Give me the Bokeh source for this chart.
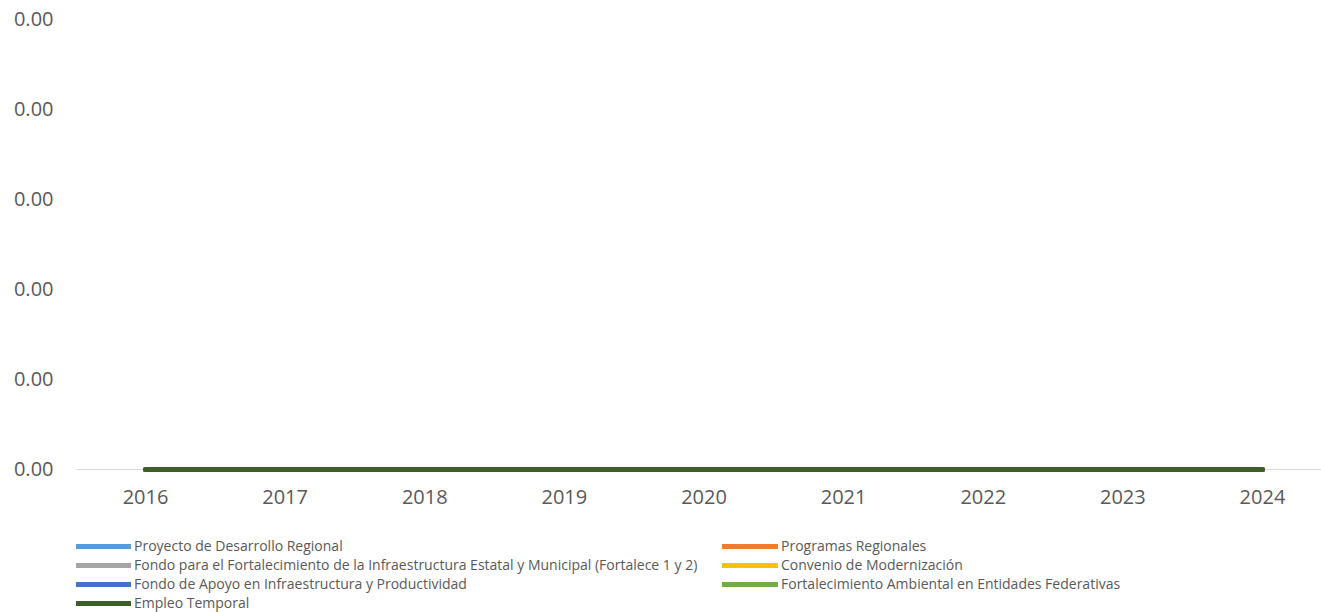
from bokeh.plotting import figure
from bokeh.layouts import column
from bokeh.models import Legend, LegendItem, FixedTicker, NumeralTickFormatter, Range1d, Span
from bokeh.embed import file_html
from bokeh.resources import INLINE

years = ["2016", "2017", "2018", "2019", "2020", "2021", "2022", "2023", "2024"]

series_names = [
    "Proyecto de Desarrollo Regional",
    "Programas Regionales",
    "Fondo para el Fortalecimiento de la Infraestructura Estatal y Municipal (Fortalece 1 y 2)",
    "Convenio de Modernización",
    "Fondo de Apoyo en Infraestructura y Productividad",
    "Fortalecimiento Ambiental en Entidades Federativas",
    "Empleo Temporal",
]

series_colors = ["#5B9BD5", "#ED7D31", "#A5A5A5", "#FFC000", "#4472C4", "#70AD47", "#3C5E27"]

proyecto_desarrollo_regional = [0.0, 0.0, 0.0, 0.0, 0.0, 0.0, 0.0, 0.0, 0.0]
programas_regionales = [0.0, 0.0, 0.0, 0.0, 0.0, 0.0, 0.0, 0.0, 0.0]
fortalece = [0.0, 0.0, 0.0, 0.0, 0.0, 0.0, 0.0, 0.0, 0.0]
convenio_modernizacion = [0.0, 0.0, 0.0, 0.0, 0.0, 0.0, 0.0, 0.0, 0.0]
fondo_apoyo = [0.0, 0.0, 0.0, 0.0, 0.0, 0.0, 0.0, 0.0, 0.0]
fortalecimiento_ambiental = [0.0, 0.0, 0.0, 0.0, 0.0, 0.0, 0.0, 0.0, 0.0]
empleo_temporal = [0.0, 0.0, 0.0, 0.0, 0.0, 0.0, 0.0, 0.0, 0.0]

series_values = [
    proyecto_desarrollo_regional,
    programas_regionales,
    fortalece,
    convenio_modernizacion,
    fondo_apoyo,
    fortalecimiento_ambiental,
    empleo_temporal,
]

y_ticks = [0.0, 0.0008, 0.0016, 0.0024, 0.0032, 0.004]

FONT = "Open Sans"
TEXT_COLOR = "#595959"

x_pos = list(range(len(years)))

# ---------------- main chart ----------------
p = figure(
    width=1321,
    height=520,
    output_backend="svg",
    toolbar_location=None,
    x_range=Range1d(-0.4942, 8.4226),
    y_range=Range1d(-0.0000355, y_ticks[-1]),
    min_border_left=76,
    min_border_right=0,
    min_border_top=18,
    min_border_bottom=47,
)
p.outline_line_color = None
p.xgrid.visible = False
p.ygrid.visible = False
p.background_fill_color = "white"
p.border_fill_color = "white"

baseline = Span(location=0, dimension="width", line_color="#D9D9D9", line_width=1, level="underlay")
p.add_layout(baseline)

for name, color, vals in zip(series_names, series_colors, series_values):
    p.line(x_pos, vals, line_color=color, line_width=5, line_cap="round", line_join="round")

xa = p.xaxis[0]
xa.ticker = FixedTicker(ticks=x_pos)
xa.major_label_overrides = {i: y for i, y in zip(x_pos, years)}
xa.major_tick_line_color = None
xa.minor_tick_line_color = None
xa.major_tick_out = 0
xa.major_tick_in = 0
xa.axis_line_color = None
xa.major_label_text_font = FONT
xa.major_label_text_font_size = "20px"
xa.major_label_text_color = TEXT_COLOR
xa.major_label_standoff = 16

ya = p.yaxis[0]
ya.ticker = FixedTicker(ticks=y_ticks)
ya.formatter = NumeralTickFormatter(format="0.00")
ya.axis_line_color = None
ya.major_tick_line_color = None
ya.minor_tick_line_color = None
ya.major_tick_out = 0
ya.major_tick_in = 0
ya.major_label_text_font = FONT
ya.major_label_text_font_size = "20px"
ya.major_label_text_color = TEXT_COLOR
ya.major_label_standoff = 23

# ---------------- legend strip ----------------
q = figure(
    width=1321,
    height=92,
    output_backend="svg",
    toolbar_location=None,
    x_axis_type=None,
    y_axis_type=None,
    x_range=Range1d(0, 8),
    y_range=Range1d(1, 2),
    min_border=0,
)
q.outline_line_color = None
q.xgrid.visible = False
q.ygrid.visible = False
q.background_fill_color = "white"
q.border_fill_color = "white"

items = []
for name, color, vals in zip(series_names, series_colors, series_values):
    r = q.line(x_pos, vals, line_color=color, line_width=5, line_cap="round")
    items.append(LegendItem(label=name, renderers=[r]))

legend = Legend(
    items=items,
    ncols=2,
    orientation="horizontal",
    location=(-1, 0),
    label_text_font=FONT,
    label_text_font_size="14px",
    label_text_color=TEXT_COLOR,
    glyph_width=56,
    glyph_height=16,
    label_height=16,
    label_standoff=3,
    label_width=588,
    spacing=0,
    padding=0,
    margin=0,
    border_line_color=None,
    background_fill_alpha=0,
)
q.add_layout(legend, "center")

layout = column(p, q, spacing=0)
open("out.html", "w").write(file_html(layout, INLINE))
